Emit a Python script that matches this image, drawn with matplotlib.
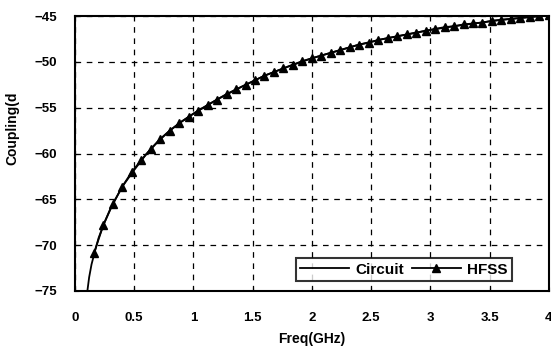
import matplotlib
matplotlib.use("Agg")
import matplotlib.pyplot as plt

plt.rcParams["font.family"] = ["Liberation Sans", "DejaVu Sans"]

circuit_freq = [0.10, 0.12, 0.14, 0.17, 0.20, 0.25, 0.30, 0.40, 0.50, 0.60,
                0.70, 0.80, 0.90, 1.00, 1.20, 1.40, 1.60, 1.80, 2.00, 2.20,
                2.40, 2.60, 2.80, 3.00, 3.20, 3.40, 3.60, 3.80, 4.00]
circuit_db = [-75.5, -73.5, -72.1, -70.6, -69.2, -67.5, -66.0, -63.6, -61.8, -60.1,
              -58.7, -57.5, -56.5, -55.65, -54.1, -52.75, -51.5, -50.5, -49.6, -48.85,
              -48.1, -47.5, -47.0, -46.5, -46.1, -45.75, -45.4, -45.15, -44.9]

hfss_freq = [0.16, 0.24, 0.32, 0.40, 0.48, 0.56, 0.64, 0.72, 0.80, 0.88,
             0.96, 1.04, 1.12, 1.20, 1.28, 1.36, 1.44, 1.52, 1.60, 1.68,
             1.76, 1.84, 1.92, 2.00, 2.08, 2.16, 2.24, 2.32, 2.40, 2.48,
             2.56, 2.64, 2.72, 2.80, 2.88, 2.96, 3.04, 3.12, 3.20, 3.28,
             3.36, 3.44, 3.52, 3.60, 3.68, 3.76, 3.84, 3.92, 4.00]
hfss_db = [-70.9, -67.8, -65.5, -63.6, -62.0, -60.7, -59.5, -58.4, -57.5, -56.7,
           -56.0, -55.3, -54.7, -54.1, -53.5, -53.0, -52.5, -52.0, -51.5, -51.1,
           -50.7, -50.3, -49.9, -49.6, -49.3, -49.0, -48.7, -48.4, -48.1, -47.9,
           -47.6, -47.4, -47.2, -47.0, -46.8, -46.6, -46.4, -46.2, -46.1, -45.9,
           -45.8, -45.7, -45.5, -45.4, -45.3, -45.2, -45.1, -45.0, -44.9]

x_ticks = [0, 0.5, 1, 1.5, 2, 2.5, 3, 3.5, 4]
x_tick_labels = ["0", "0.5", "1", "1.5", "2", "2.5", "3", "3.5", "4"]
y_ticks = [-75, -70, -65, -60, -55, -50, -45]

fig = plt.figure(figsize=(5.51, 3.51), dpi=100)
ax = fig.add_axes([0.136, 0.171, 0.860, 0.783])

ax.plot(circuit_freq, circuit_db, color="black", linewidth=1.3, label="Circuit")
ax.plot(hfss_freq, hfss_db, color="black", linewidth=1.3, marker="^",
        markersize=5.5, label="HFSS")

ax.set_xlim(0, 4)
ax.set_ylim(-75, -45)
ax.set_xticks(x_ticks)
ax.set_xticklabels(x_tick_labels)
ax.set_yticks(y_ticks)
ax.tick_params(axis="y", direction="in", length=3, labelsize=9.5, pad=13)
ax.tick_params(axis="x", direction="in", length=3, labelsize=9.5, pad=15)
for lbl in ax.get_xticklabels() + ax.get_yticklabels():
    lbl.set_fontweight("bold")

ax.grid(True, color="black", linestyle=(0, (4.5, 4.5)), linewidth=0.9)
for spine in ax.spines.values():
    spine.set_linewidth(1.5)

ax.set_xlabel("Freq(GHz)", fontsize=10, fontweight="bold", labelpad=6)
fig.text(0.022, 0.635, "Coupling(d", rotation=90, fontsize=10,
         fontweight="bold", ha="center", va="center")

leg = ax.legend(loc="lower right", bbox_to_anchor=(0.922, 0.035), ncol=2,
                frameon=True, fancybox=False, handlelength=3.2,
                handletextpad=0.4, columnspacing=0.5, borderpad=0.3,
                borderaxespad=0.0, prop={"weight": "bold", "size": 11})
leg.get_frame().set_edgecolor("black")
leg.get_frame().set_linewidth(1.5)

fig.savefig("out.png", dpi=100)
